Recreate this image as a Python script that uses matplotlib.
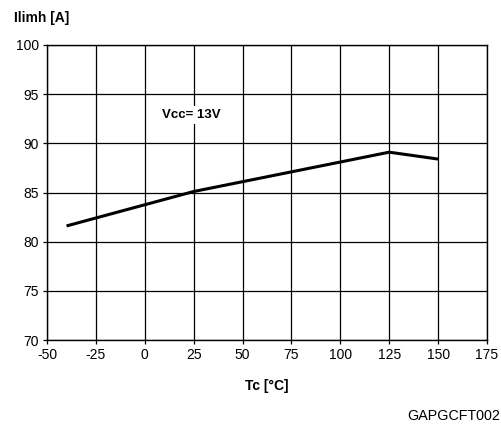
import matplotlib
matplotlib.use("Agg")
import matplotlib.pyplot as plt

plt.rcParams['font.family'] = ['Liberation Sans', 'DejaVu Sans']

tc = [-40, 25, 125, 150]
ilimh = [81.6, 85.1, 89.1, 88.4]
x_ticks = [-50, -25, 0, 25, 50, 75, 100, 125, 150, 175]
y_ticks = [70, 75, 80, 85, 90, 95, 100]

fig = plt.figure(figsize=(5.02, 4.25), dpi=100)
ax = fig.add_axes([47 / 502, 85 / 425, 440 / 502, 295 / 425])

ax.plot(tc, ilimh, color="black", linewidth=2.2, solid_capstyle="butt")

ax.set_xlim(-50, 175)
ax.set_ylim(70, 100)
ax.set_xticks(x_ticks)
ax.set_yticks(y_ticks)
ax.set_xticklabels([str(t) for t in x_ticks])
ax.grid(True, color="black", linewidth=0.9)
ax.set_axisbelow(True)
for s in ax.spines.values():
    s.set_linewidth(1.0)
ax.tick_params(direction="out", length=3, width=0.9, labelsize=10, pad=3)

# label sits on a white box that cuts the 25 grid line
ax.text(24, 92.9, "Vcc= 13V", fontsize=9.5, fontweight="bold", ha="center", va="center",
        bbox=dict(facecolor="white", edgecolor="none", pad=2))

fig.text(14 / 502, 1 - 18 / 425, "Ilimh [A]", fontsize=10, fontweight="bold", ha="left", va="center")
fig.text(267 / 502, 1 - 386 / 425, "Tc [°C]", fontsize=10, fontweight="bold", ha="center", va="center")
fig.text(500 / 502, 1 - 416 / 425, "GAPGCFT002", fontsize=10.3, ha="right", va="center")

fig.savefig("out.png", dpi=100)
